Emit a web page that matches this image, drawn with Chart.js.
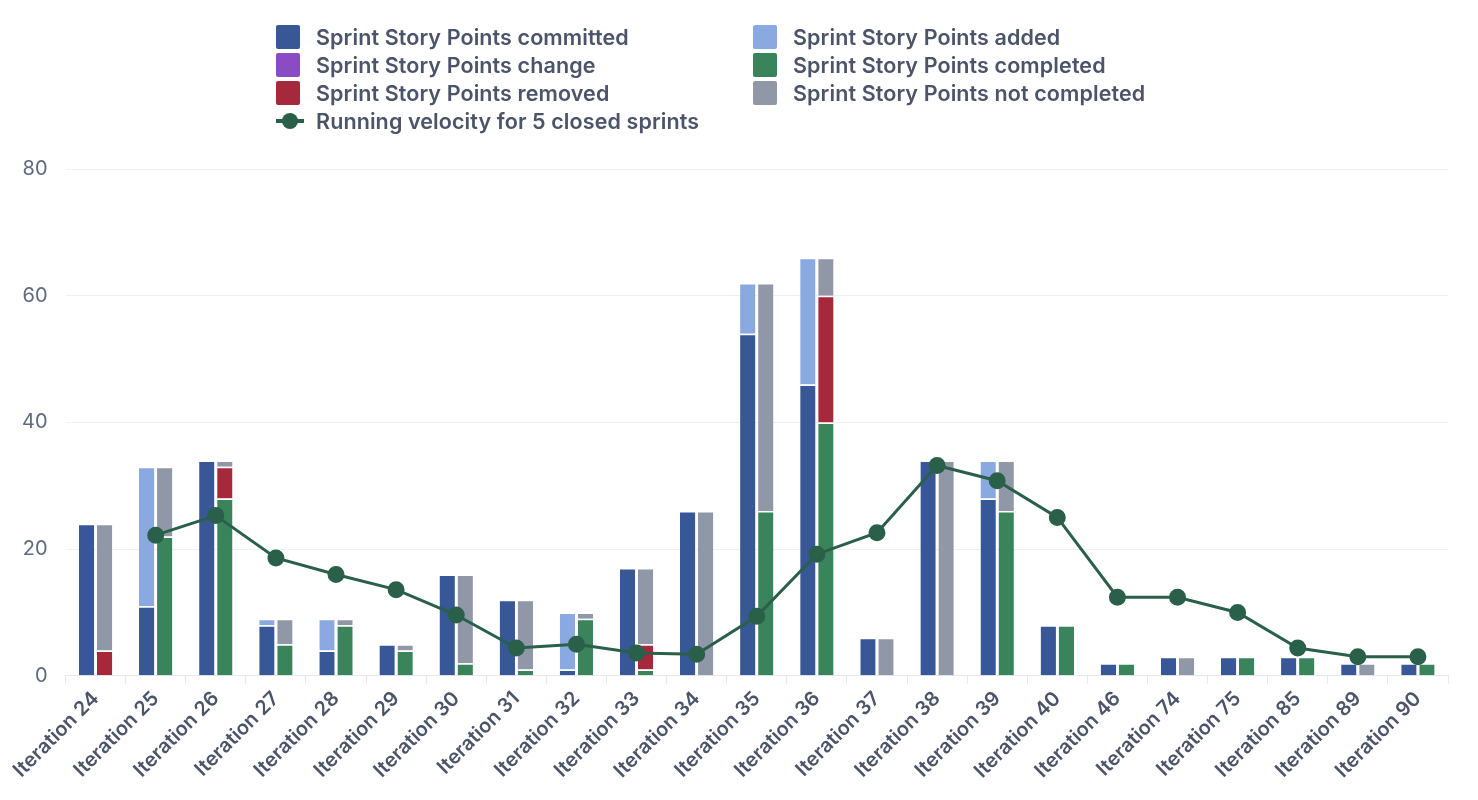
<!DOCTYPE html>
<html>
<head>
<meta charset="utf-8">
<script src="https://cdn.jsdelivr.net/npm/chart.js@4"></script>
<style>
body { margin: 0; background: #fff; font-family: Inter, sans-serif; }
#wrap { position: relative; width: 1478px; height: 800px; }
#legend { position: absolute; left: 276px; top: 25px; display: grid; grid-template-columns: 477px 420px; row-gap: 4px; }
.item { display: flex; align-items: center; height: 24px; font-size: 21.5px; font-weight: 600; color: #4b5468; letter-spacing: 0.1px; }
.box { width: 24px; height: 24px; margin-right: 16px; border-radius: 2px; }
.line { width: 28px; height: 24px; margin-right: 12px; position: relative; }
.line:before { content: ""; position: absolute; left: 0; right: 0; top: 10px; height: 4px; background: #2a6049; }
.line:after { content: ""; position: absolute; left: 6px; top: 4px; width: 16px; height: 16px; border-radius: 50%; background: #2a6049; }
canvas { position: absolute; left: 0; top: 0; }
</style>
</head>
<body>
<div id="wrap">
<canvas id="chart" width="1478" height="800"></canvas>
<div id="legend"></div>
</div>
<script>
var categories = ["Iteration 24","Iteration 25","Iteration 26","Iteration 27","Iteration 28","Iteration 29","Iteration 30","Iteration 31","Iteration 32","Iteration 33","Iteration 34","Iteration 35","Iteration 36","Iteration 37","Iteration 38","Iteration 39","Iteration 40","Iteration 46","Iteration 74","Iteration 75","Iteration 85","Iteration 89","Iteration 90"];
var committed    = [24,11,34,8,4,5,16,12,1,17,26,54,46,6,34,28,8,2,3,3,3,2,2];
var added        = [0,22,0,1,5,0,0,0,9,0,0,8,20,0,0,6,0,0,0,0,0,0,0];
var change       = [0,0,0,0,0,0,0,0,0,0,0,0,0,0,0,0,0,0,0,0,0,0,0];
var completed    = [0,22,28,5,8,4,2,1,9,1,0,26,40,0,0,26,8,2,0,3,3,0,2];
var removed      = [4,0,5,0,0,0,0,0,0,4,0,0,20,0,0,0,0,0,0,0,0,0,0];
var notCompleted = [20,11,1,4,1,1,14,11,1,12,26,36,6,6,34,8,0,0,3,0,0,2,0];
var velocity     = [null,22.2,25.3,18.6,16,13.6,9.6,4.4,5,3.6,3.4,9.4,19.2,22.6,33.2,30.8,25,12.4,12.4,10,4.4,3,3];

var colors = {
    committed: "#375797", added: "#8aa9e0", change: "#8a4cc4",
    completed: "#3a845c", removed: "#a5283b", notCompleted: "#9097a6", line: "#2a6049"
};

// legend html (2 columns like the original)
var legendItems = [
    ["Sprint Story Points committed", colors.committed],
    ["Sprint Story Points added", colors.added],
    ["Sprint Story Points change", colors.change],
    ["Sprint Story Points completed", colors.completed],
    ["Sprint Story Points removed", colors.removed],
    ["Sprint Story Points not completed", colors.notCompleted],
    ["Running velocity for 5 closed sprints", null]
];
var lg = document.getElementById("legend");
legendItems.forEach(function (it) {
    var d = document.createElement("div");
    d.className = "item";
    d.innerHTML = (it[1] ? '<span class="box" style="background:' + it[1] + '"></span>' : '<span class="line"></span>') + it[0];
    lg.appendChild(d);
});

function bar(label, data, color, stack) {
    return {
        type: "bar", label: label, data: data, backgroundColor: color, stack: stack,
        borderColor: "#fff", borderWidth: { top: 1.5 }, borderSkipped: false,
        categoryPercentage: 0.6, barPercentage: 0.85, order: 2
    };
}

Chart.defaults.font.family = "Inter, sans-serif";
new Chart(document.getElementById("chart"), {
    data: {
        labels: categories,
        datasets: [
            {
                type: "line", label: "Running velocity for 5 closed sprints", data: velocity,
                borderColor: colors.line, backgroundColor: colors.line, borderWidth: 3,
                pointRadius: 7, pointHoverRadius: 7, order: 1, tension: 0
            },
            bar("Sprint Story Points committed", committed, colors.committed, "a"),
            bar("Sprint Story Points added", added, colors.added, "a"),
            bar("Sprint Story Points change", change, colors.change, "a"),
            bar("Sprint Story Points completed", completed, colors.completed, "b"),
            bar("Sprint Story Points removed", removed, colors.removed, "b"),
            bar("Sprint Story Points not completed", notCompleted, colors.notCompleted, "b")
        ]
    },
    options: {
        responsive: false,
        animation: false,
        layout: { padding: { top: 169, right: 30, left: 4, bottom: 14 } },
        plugins: { legend: { display: false }, tooltip: { enabled: false } },
        scales: {
            x: {
                stacked: true,
                grid: { drawOnChartArea: false, color: "#e6e8ec", tickLength: 8 },
                border: { color: "#e6e8ec" },
                ticks: { maxRotation: 45, minRotation: 45, color: "#4b5468", font: { size: 20, weight: 600 } }
            },
            y: {
                stacked: true, min: 0, max: 80,
                grid: { color: "#eef0f3", drawTicks: false },
                border: { display: false },
                ticks: { stepSize: 20, padding: 18, color: "#5e6a80", font: { size: 20 } }
            }
        }
    }
});
</script>
</body>
</html>
